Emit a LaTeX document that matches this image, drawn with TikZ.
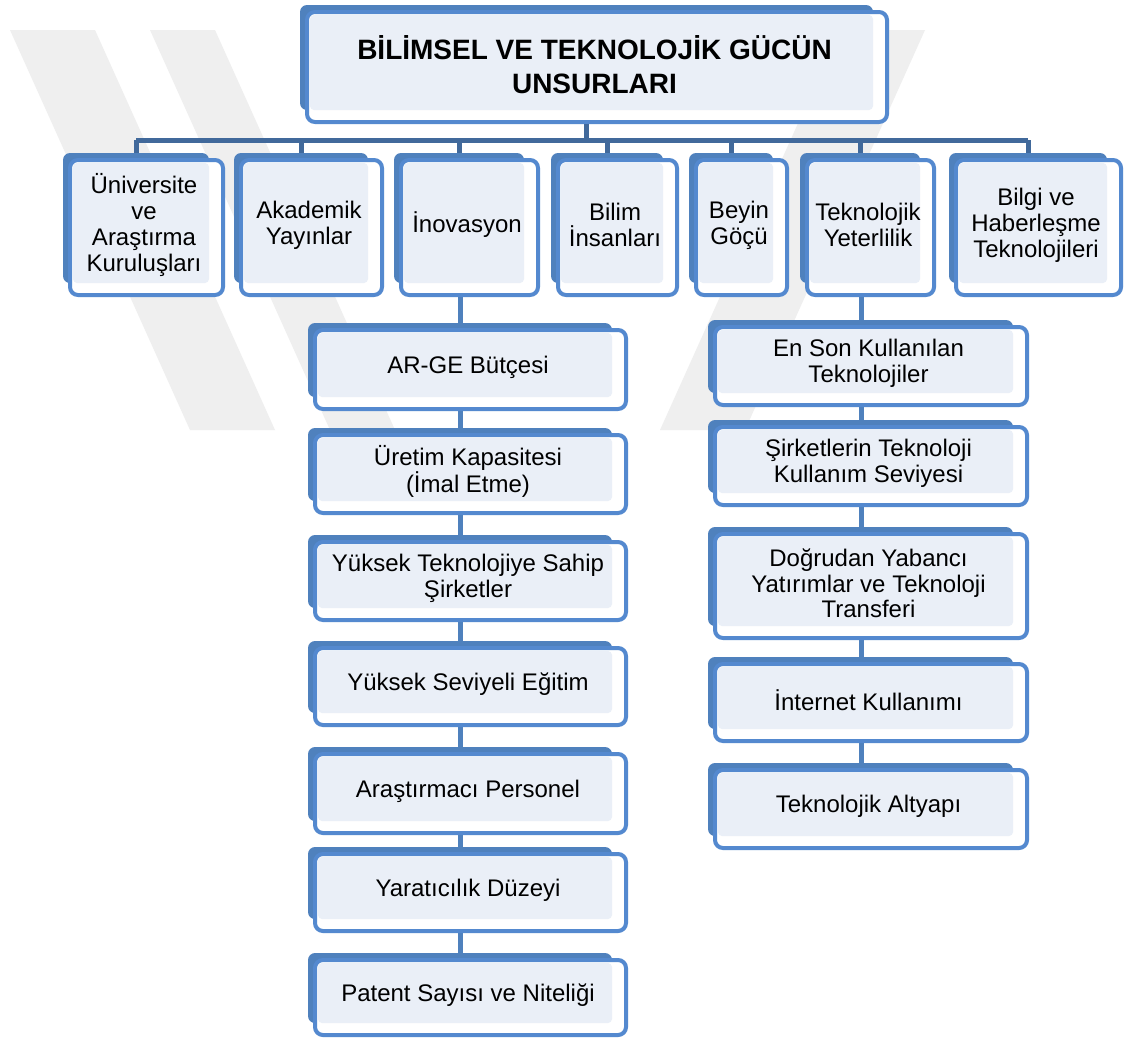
\documentclass[tikz,border=0pt]{standalone}
\usepackage{fontspec}
\setmainfont{Liberation Sans}
\usetikzlibrary{calc}
\definecolor{backblue}{HTML}{4F81BD}
\definecolor{frameblue}{HTML}{5489CF}
\definecolor{lightfill}{HTML}{EAEFF7}
\definecolor{barblue}{HTML}{41699B}
\definecolor{wmgray}{HTML}{EFEFEF}
\tikzset{
  txt/.style={inner sep=0pt, align=center, font=\fontsize{24}{25.5}\selectfont},
  toptxt/.style={txt, font=\fontsize{24}{26}\selectfont},
  titletxt/.style={inner sep=0pt, align=center, font=\fontsize{28}{34}\selectfont\bfseries},
  conn/.style={draw=backblue, line width=5pt},
  barline/.style={draw=barblue, line width=5pt},
  wmband/.style={fill=wmgray},
}
\newcommand\smartbox[7]{%
  \fill[backblue, rounded corners=7pt] (#3,#4) rectangle (#5,#6);
  \draw[frameblue, line width=4pt, fill=white, rounded corners=8pt] (#3+7,#4+7) rectangle (#5+14,#6+12);
  \fill[lightfill, rounded corners=4pt] (#3+10,#4+10) rectangle (#5,#6);
  \node[#1, minimum width={#5+16-#3}, minimum height={#6+14-#4}] (#2) at ({(#3+#5+16)/2},{(#4+#6+14)/2}) {#7};
}
\begin{document}
\begin{tikzpicture}[x=1pt,y=-1pt]
\useasboundingbox (0,0) rectangle (1129,1039);
\fill[white] (0,0) rectangle (1129,1039);

% faint watermark bands
\begin{scope}
  \clip (0,30) rectangle (1129,430);
  \fill[wmband] (10,30) -- (95,30) -- (275,430) -- (190,430) -- cycle;
  \fill[wmband] (150,30) -- (215,30) -- (395,430) -- (330,430) -- cycle;
  \fill[wmband] (925,30) -- (840,30) -- (660,430) -- (745,430) -- cycle;
\end{scope}

% tick coordinates
\coordinate (barY) at (0,140);
\coordinate (tc) at (586,0);
\coordinate (tUni) at (136,140);
\coordinate (tAkad) at (301,140);
\coordinate (tInov) at (459,140);
\coordinate (tBilim) at (607,140);
\coordinate (tBeyin) at (731,140);
\coordinate (tTek) at (860,140);
\coordinate (tBilgi) at (1028,140);
\coordinate (colL) at (460,0);
\coordinate (colR) at (861,0);

% title
\smartbox{titletxt}{title}{300}{5}{873}{110}{BİLİMSEL VE TEKNOLOJİK GÜCÜN\\UNSURLARI}

% connectors of top row (drawn before boxes)
\draw[barline] (tc |- title.south) -- (tc |- barY);
\draw[barline] (tUni) -- (tBilgi);
\foreach \t in {tUni,tAkad,tInov,tBilim,tBeyin,tTek,tBilgi}{
  \draw[barline] (\t) -- ++(0,13);
}

% top row
\smartbox{toptxt}{uni}{63}{153}{209}{283}{Üniversite\\ve\\Araştırma\\Kuruluşları}
\smartbox{toptxt}{akad}{234}{153}{368}{283}{Akademik\\Yayınlar}
\smartbox{toptxt}{inov}{394}{153}{524}{283}{İnovasyon}
\smartbox{toptxt}{bilim}{551}{153}{663}{283}{Bilim\\İnsanları}
\smartbox{toptxt}{beyin}{689}{153}{773}{283}{Beyin\\Göçü}
\smartbox{toptxt}{tekyet}{800}{153}{920}{283}{Teknolojik\\Yeterlilik}
\smartbox{toptxt}{bilgi}{949}{153}{1107}{283}{Bilgi ve\\Haberleşme\\Teknolojileri}

% left column connectors
\draw[conn] (inov.south -| colL) -- ++(0,26);
\draw[conn] (colL |- 0,411) -- (colL |- 0,428);
\draw[conn] (colL |- 0,515) -- (colL |- 0,535);
\draw[conn] (colL |- 0,622) -- (colL |- 0,641);
\draw[conn] (colL |- 0,727) -- (colL |- 0,747);
\draw[conn] (colL |- 0,835) -- (colL |- 0,847);
\draw[conn] (colL |- 0,933) -- (colL |- 0,953);
% right column connectors
\draw[conn] (tekyet.south -| colR) -- ++(0,23);
\draw[conn] (colR |- 0,407) -- (colR |- 0,420);
\draw[conn] (colR |- 0,507) -- (colR |- 0,527);
\draw[conn] (colR |- 0,640) -- (colR |- 0,657);
\draw[conn] (colR |- 0,743) -- (colR |- 0,763);

% left column
\smartbox{txt}{arge}{308}{323}{612}{397}{AR-GE Bütçesi}
\smartbox{txt}{uretim}{308}{428}{612}{501}{Üretim Kapasitesi\\(İmal Etme)}
\smartbox{txt}{yuktek}{308}{535}{612}{608}{Yüksek Teknolojiye Sahip\\Şirketler}
\smartbox{txt}{yukegit}{308}{641}{612}{713}{Yüksek Seviyeli Eğitim}
\smartbox{txt}{arast}{308}{747}{612}{821}{Araştırmacı Personel}
\smartbox{txt}{yarat}{308}{847}{612}{919}{Yaratıcılık Düzeyi}
\smartbox{txt}{patent}{308}{953}{612}{1023}{Patent Sayısı ve Niteliği}

% right column
\smartbox{txt}{enson}{708}{320}{1013}{393}{En Son Kullanılan\\Teknolojiler}
\smartbox{txt}{sirket}{708}{420}{1013}{493}{Şirketlerin Teknoloji\\Kullanım Seviyesi}
\smartbox{txt}{dogru}{708}{527}{1013}{626}{Doğrudan Yabancı\\Yatırımlar ve Teknoloji\\Transferi}
\smartbox{txt}{internet}{708}{657}{1013}{729}{İnternet Kullanımı}
\smartbox{txt}{altyapi}{708}{763}{1013}{836}{Teknolojik Altyapı}
\end{tikzpicture}
\end{document}
